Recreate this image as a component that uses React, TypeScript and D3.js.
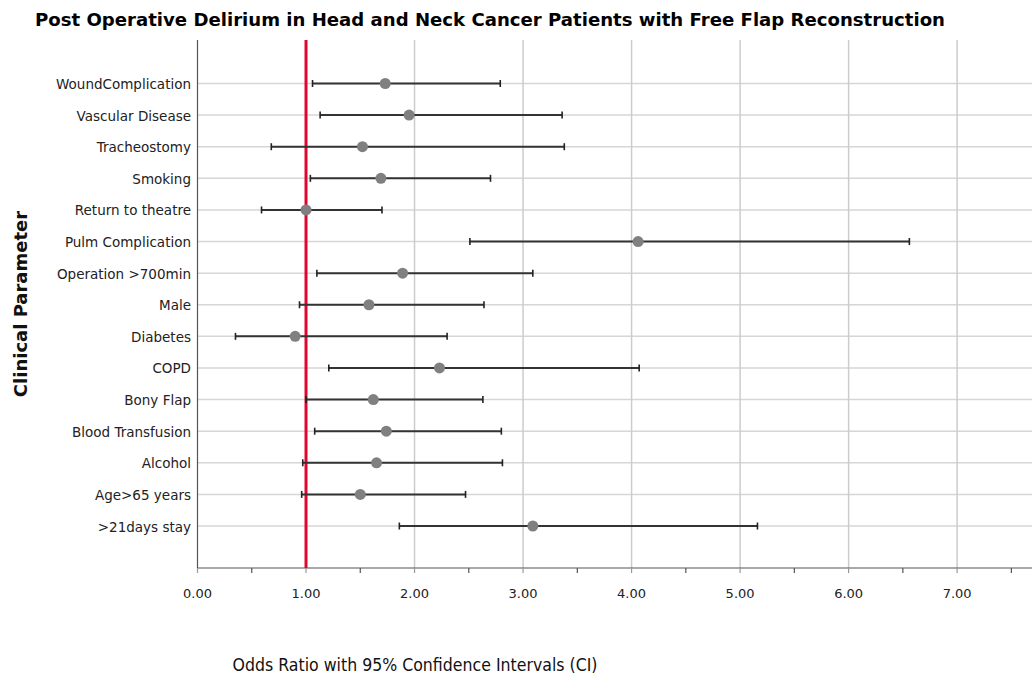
import React from "react";
import * as d3 from "d3";

const categories = [
  "WoundComplication",
  "Vascular Disease",
  "Tracheostomy",
  "Smoking",
  "Return to theatre",
  "Pulm Complication",
  "Operation >700min",
  "Male",
  "Diabetes",
  "COPD",
  "Bony Flap",
  "Blood Transfusion",
  "Alcohol",
  "Age>65 years",
  ">21days stay",
];
const oddsRatio = [1.73, 1.95, 1.52, 1.69, 1.0, 4.06, 1.89, 1.58, 0.9, 2.23, 1.62, 1.74, 1.65, 1.5, 3.09];
const ciLow = [1.06, 1.13, 0.68, 1.04, 0.59, 2.51, 1.1, 0.94, 0.35, 1.21, 1.0, 1.08, 0.97, 0.96, 1.86];
const ciHigh = [2.79, 3.36, 3.38, 2.7, 1.7, 6.56, 3.09, 2.64, 2.3, 4.07, 2.63, 2.8, 2.81, 2.47, 5.16];
const majorTicks = [0, 1, 2, 3, 4, 5, 6, 7];
const minorTicks = [0.5, 1.5, 2.5, 3.5, 4.5, 5.5, 6.5, 7.5];
const referenceValue = 1;

const W = 1032;
const H = 682;
const plotLeft = 197.5;
const plotRight = 1032;
const plotTop = 40;
const plotBottom = 568;

export default function App() {
  const x = d3.scaleLinear().domain([0, 7.69]).range([plotLeft, plotRight]);
  const y = d3.scalePoint<string>().domain(categories).range([83.5, 526]);
  const font = "'DejaVu Sans', Verdana, sans-serif";
  const capH = 3.5;

  return (
    <svg
      width={W}
      height={H}
      style={{ position: "absolute", left: 0, top: 0, background: "#fff" }}
      fontFamily={font}
    >
      {categories.map((c) => (
        <line
          key={"hg" + c}
          x1={plotLeft}
          x2={plotRight}
          y1={y(c)}
          y2={y(c)}
          stroke="#d6d6d6"
          strokeWidth={1.5}
        />
      ))}
      {majorTicks
        .filter((t) => t > 0)
        .map((t) => (
          <line
            key={"vg" + t}
            x1={x(t)}
            x2={x(t)}
            y1={plotTop}
            y2={plotBottom}
            stroke="#cccccc"
            strokeWidth={1.5}
          />
        ))}
      <line x1={plotLeft} x2={plotLeft} y1={plotTop} y2={plotBottom} stroke="#555" strokeWidth={1.2} />
      <line x1={plotLeft} x2={plotRight} y1={plotBottom} y2={plotBottom} stroke="#555" strokeWidth={1.2} />
      {majorTicks.map((t) => (
        <line key={"mt" + t} x1={x(t)} x2={x(t)} y1={plotBottom} y2={plotBottom + 5} stroke="#999" strokeWidth={1.2} />
      ))}
      {minorTicks.map((t) => (
        <line key={"nt" + t} x1={x(t)} x2={x(t)} y1={plotBottom} y2={plotBottom + 5} stroke="#555" strokeWidth={1.2} />
      ))}
      {majorTicks.map((t) => (
        <text key={"tl" + t} x={x(t)} y={598} textAnchor="middle" fontSize={13} fill="#222">
          {t.toFixed(2)}
        </text>
      ))}
      {categories.map((c) => (
        <text key={"cl" + c} x={191} y={(y(c) as number) + 5.5} textAnchor="end" fontSize={13.5} fill="#222">
          {c}
        </text>
      ))}
      <line
        x1={x(referenceValue)}
        x2={x(referenceValue)}
        y1={plotTop}
        y2={plotBottom}
        stroke="#e2062f"
        strokeWidth={3}
      />
      {categories.map((c, i) => {
        const yy = y(c) as number;
        return (
          <g key={"eb" + c}>
            <line x1={x(ciLow[i])} x2={x(ciHigh[i])} y1={yy} y2={yy} stroke="#333" strokeWidth={2} />
            <line x1={x(ciLow[i])} x2={x(ciLow[i])} y1={yy - capH} y2={yy + capH} stroke="#222" strokeWidth={1.6} />
            <line x1={x(ciHigh[i])} x2={x(ciHigh[i])} y1={yy - capH} y2={yy + capH} stroke="#222" strokeWidth={1.6} />
          </g>
        );
      })}
      {categories.map((c, i) => (
        <circle key={"pt" + c} cx={x(oddsRatio[i])} cy={y(c)} r={5.5} fill="#808080" />
      ))}
      <text
        x={490}
        y={26}
        textAnchor="middle"
        fontSize={18.5}
        fontWeight="bold"
        fill="#000"
        textLength={910}
        lengthAdjust="spacingAndGlyphs"
      >
        Post Operative Delirium in Head and Neck Cancer Patients with Free Flap Reconstruction
      </text>
      <text
        x={415}
        y={671}
        textAnchor="middle"
        fontSize={17}
        fill="#111"
        textLength={365}
        lengthAdjust="spacingAndGlyphs"
      >
        Odds Ratio with 95% Confidence Intervals (CI)
      </text>
      <text
        transform="translate(27,304) rotate(-90)"
        textAnchor="middle"
        fontSize={18}
        fontWeight="bold"
        fill="#111"
      >
        Clinical Parameter
      </text>
    </svg>
  );
}
